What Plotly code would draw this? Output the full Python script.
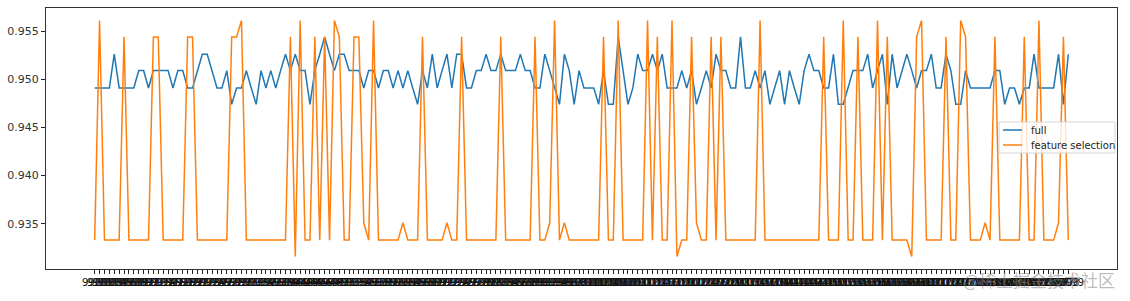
import plotly.graph_objects as go

# x categories (tick labels are unreadable in the source: dense overlapping 4-digit strings)
x_labels = [str(9900 + k) for k in range(200)]

full = [
    0.9491, 0.9491, 0.9491, 0.9491, 0.9526, 0.9491, 0.9491, 0.9491, 0.9491, 0.9509,
    0.9509, 0.9491, 0.9509, 0.9509, 0.9509, 0.9509, 0.9491, 0.9509, 0.9509, 0.9491,
    0.9491, 0.9509, 0.9526, 0.9526, 0.9509, 0.9491, 0.9491, 0.9509, 0.9474, 0.9491,
    0.9491, 0.9509, 0.9491, 0.9474, 0.9509, 0.9491, 0.9509, 0.9491, 0.9509, 0.9526,
    0.9509, 0.9526, 0.9509, 0.9509, 0.9474, 0.9509, 0.9526, 0.9544, 0.9526, 0.9509,
    0.9526, 0.9526, 0.9509, 0.9509, 0.9509, 0.9491, 0.9509, 0.9509, 0.9491, 0.9509,
    0.9509, 0.9491, 0.9509, 0.9491, 0.9509, 0.9491, 0.9474, 0.9509, 0.9491, 0.9526,
    0.9491, 0.9509, 0.9526, 0.9491, 0.9526, 0.9526, 0.9491, 0.9491, 0.9509, 0.9509,
    0.9526, 0.9509, 0.9509, 0.9526, 0.9509, 0.9509, 0.9509, 0.9526, 0.9509, 0.9509,
    0.9491, 0.9491, 0.9526, 0.9509, 0.9491, 0.9474, 0.9526, 0.9509, 0.9474, 0.9509,
    0.9491, 0.9491, 0.9491, 0.9474, 0.9509, 0.9474, 0.9474, 0.9544, 0.9509, 0.9474,
    0.9491, 0.9526, 0.9509, 0.9509, 0.9526, 0.9509, 0.9526, 0.9491, 0.9491, 0.9491,
    0.9509, 0.9491, 0.9509, 0.9474, 0.9491, 0.9509, 0.9491, 0.9526, 0.9509, 0.9509,
    0.9491, 0.9491, 0.9544, 0.9491, 0.9491, 0.9509, 0.9491, 0.9509, 0.9474, 0.9491,
    0.9509, 0.9474, 0.9509, 0.9491, 0.9474, 0.9509, 0.9526, 0.9509, 0.9509, 0.9491,
    0.9491, 0.9526, 0.9474, 0.9474, 0.9491, 0.9509, 0.9509, 0.9509, 0.9526, 0.9491,
    0.9509, 0.9526, 0.9474, 0.9526, 0.9491, 0.9509, 0.9526, 0.9509, 0.9491, 0.9509,
    0.9509, 0.9526, 0.9491, 0.9491, 0.9526, 0.9509, 0.9474, 0.9474, 0.9509, 0.9491,
    0.9491, 0.9491, 0.9491, 0.9491, 0.9509, 0.9509, 0.9474, 0.9491, 0.9491, 0.9474,
    0.9491, 0.9491, 0.9526, 0.9491, 0.9491, 0.9491, 0.9491, 0.9526, 0.9474, 0.9526,
]

feature_selection = [
    0.9333, 0.9561, 0.9333, 0.9333, 0.9333, 0.9333, 0.9544, 0.9333, 0.9333, 0.9333,
    0.9333, 0.9333, 0.9544, 0.9544, 0.9333, 0.9333, 0.9333, 0.9333, 0.9333, 0.9544,
    0.9544, 0.9333, 0.9333, 0.9333, 0.9333, 0.9333, 0.9333, 0.9333, 0.9544, 0.9544,
    0.9561, 0.9333, 0.9333, 0.9333, 0.9333, 0.9333, 0.9333, 0.9333, 0.9333, 0.9333,
    0.9544, 0.9316, 0.9561, 0.9333, 0.9333, 0.9544, 0.9333, 0.9544, 0.9333, 0.9561,
    0.9544, 0.9333, 0.9333, 0.9544, 0.9544, 0.9351, 0.9333, 0.9561, 0.9333, 0.9333,
    0.9333, 0.9333, 0.9333, 0.9351, 0.9333, 0.9333, 0.9333, 0.9544, 0.9333, 0.9333,
    0.9333, 0.9333, 0.9351, 0.9333, 0.9333, 0.9544, 0.9333, 0.9333, 0.9333, 0.9333,
    0.9333, 0.9333, 0.9333, 0.9544, 0.9333, 0.9333, 0.9333, 0.9333, 0.9333, 0.9333,
    0.9544, 0.9333, 0.9333, 0.9351, 0.9561, 0.9333, 0.9351, 0.9333, 0.9333, 0.9333,
    0.9333, 0.9333, 0.9333, 0.9333, 0.9544, 0.9333, 0.9333, 0.9561, 0.9333, 0.9333,
    0.9333, 0.9333, 0.9333, 0.9561, 0.9333, 0.9544, 0.9333, 0.9333, 0.9561, 0.9316,
    0.9333, 0.9333, 0.9544, 0.9351, 0.9333, 0.9333, 0.9544, 0.9333, 0.9544, 0.9333,
    0.9333, 0.9333, 0.9333, 0.9333, 0.9333, 0.9333, 0.9561, 0.9333, 0.9333, 0.9333,
    0.9333, 0.9333, 0.9333, 0.9333, 0.9333, 0.9333, 0.9333, 0.9333, 0.9333, 0.9544,
    0.9333, 0.9333, 0.9333, 0.9561, 0.9333, 0.9333, 0.9544, 0.9333, 0.9333, 0.9333,
    0.9561, 0.9333, 0.9544, 0.9333, 0.9333, 0.9333, 0.9333, 0.9316, 0.9544, 0.9561,
    0.9333, 0.9333, 0.9333, 0.9333, 0.9544, 0.9333, 0.9333, 0.9561, 0.9544, 0.9333,
    0.9333, 0.9333, 0.9351, 0.9333, 0.9544, 0.9333, 0.9333, 0.9333, 0.9333, 0.9333,
    0.9544, 0.9333, 0.9333, 0.9561, 0.9333, 0.9333, 0.9333, 0.9351, 0.9544, 0.9333,
]

y_ticks = [0.935, 0.940, 0.945, 0.950, 0.955]
y_tick_text = ["0.935", "0.940", "0.945", "0.950", "0.955"]
series_names = ["full", "feature selection"]
series_colors = ["#1f77b4", "#ff7f0e"]
watermark = "@稀土掘金技术社区"

W, H = 1130, 301
ML, MR, MT, MB = 46, 13, 8, 32
PW, PH = W - ML - MR, H - MT - MB


def px(xp):
    return (xp - ML) / PW


def py(yp):
    return (H - MB - yp) / PH


fig = go.Figure()
for name, vals, col in zip(series_names, [full, feature_selection], series_colors):
    fig.add_trace(go.Scatter(x=x_labels, y=vals, mode="lines", name=name,
                             line=dict(color=col, width=1.5), showlegend=False))

n = len(x_labels)
pad = 0.05 * (n - 1)
fig.update_xaxes(
    type="category", range=[-pad, n - 1 + pad],
    tickmode="array", tickvals=x_labels, ticktext=x_labels, tickangle=0,
    ticks="outside", ticklen=4, tickwidth=1, tickcolor="#222",
    tickfont=dict(family="DejaVu Sans", size=10, color="#111"),
    showline=True, linecolor="#333", linewidth=1, mirror=True,
    showgrid=False, zeroline=False, automargin=False,
)
fig.update_yaxes(
    range=[0.9303, 0.9574],
    tickmode="array", tickvals=y_ticks, ticktext=y_tick_text,
    ticks="outside", ticklen=4, tickwidth=1, tickcolor="#222",
    tickfont=dict(family="DejaVu Sans", size=11, color="#333"),
    showline=True, linecolor="#333", linewidth=1, mirror=True,
    showgrid=False, zeroline=False, automargin=False,
)

# legend box drawn like matplotlib's
shapes = [dict(type="rect", xref="paper", yref="paper",
               x0=px(999), x1=px(1115), y0=py(153), y1=py(122),
               fillcolor="rgba(255,255,255,0.8)",
               line=dict(color="#d5d5d5", width=1), layer="above")]
annotations = []
for k, (name, col) in enumerate(zip(series_names, series_colors)):
    yy = 130 + 15 * k
    shapes.append(dict(type="line", xref="paper", yref="paper",
                       x0=px(1003), x1=px(1022), y0=py(yy), y1=py(yy),
                       line=dict(color=col, width=1.5), layer="above"))
    annotations.append(dict(text=name, xref="paper", yref="paper",
                            x=px(1029), y=py(yy), xanchor="left", yanchor="middle",
                            showarrow=False,
                            font=dict(family="DejaVu Sans", size=10, color="#222")))

annotations.append(dict(text=watermark, xref="paper", yref="paper",
                        x=1.0, y=-0.04, xanchor="right", yanchor="middle",
                        showarrow=False,
                        font=dict(family="Noto Sans CJK SC", size=17,
                                  color="rgba(130,130,130,0.55)")))

fig.update_layout(
    width=W, height=H,
    margin=dict(l=ML, r=MR, t=MT, b=MB),
    paper_bgcolor="white", plot_bgcolor="white",
    font=dict(family="DejaVu Sans"),
    shapes=shapes, annotations=annotations,
    showlegend=False,
)
fig.write_html("out.html")
